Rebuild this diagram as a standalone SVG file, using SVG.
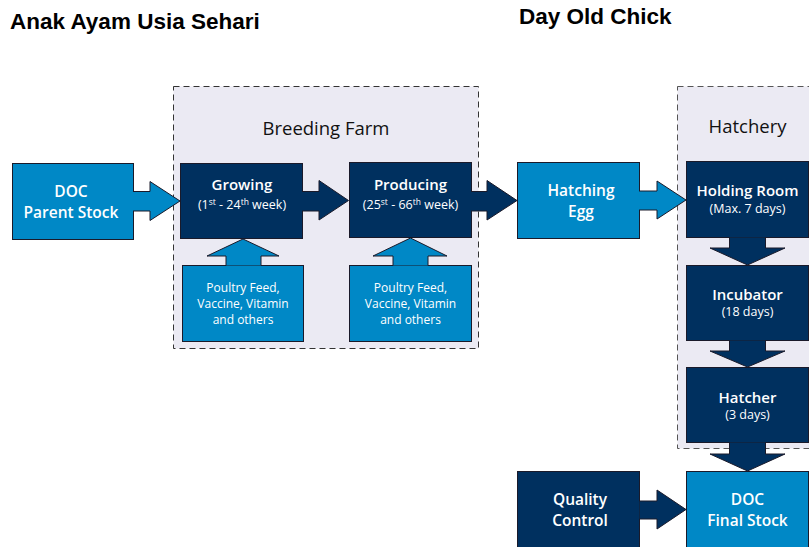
<svg xmlns="http://www.w3.org/2000/svg" width="809" height="547" viewBox="0 0 809 547">
<style>
.navy{fill:#00305f;stroke:#1a1a2a;stroke-width:1}
.blue{fill:#0088c6;stroke:#1a1a2a;stroke-width:1}
.an{fill:#00305f;stroke:#1a1a2a;stroke-width:1}
.ab{fill:#0088c6;stroke:#1a1a2a;stroke-width:1}
.grp{fill:#ebeaf3;stroke:#333;stroke-width:1;stroke-dasharray:6 4}
.t{font-family:"Open Sans","Noto Sans",sans-serif;fill:#fff;text-anchor:middle}
.b{font-weight:600;font-size:15px}
.m{font-weight:600;font-size:15.5px}
.s{font-size:12.5px}
.f{font-size:12px}
.h{font-family:"Liberation Sans",Arial,sans-serif;font-weight:bold;font-size:22.5px;fill:#000}
.g{font-family:"Open Sans","Noto Sans",sans-serif;font-size:18.5px;fill:#111;text-anchor:middle}
</style>
<text class="h" x="10" y="29">Anak Ayam Usia Sehari</text>
<text class="h" x="519" y="24">Day Old Chick</text>

<g id="breeding-farm">
<rect class="grp" x="173.5" y="86.5" width="305" height="262"/>
<text class="g" x="326" y="135">Breeding Farm</text>
</g>
<g id="hatchery">
<rect class="grp" x="677.5" y="86.5" width="160" height="362" style="stroke:#555"/>
<text class="g" x="747.5" y="133">Hatchery</text>
</g>

<g id="doc-parent-stock">
<rect class="blue" x="12.5" y="163.5" width="121" height="76"/>
<text class="t m" x="71" y="197">DOC</text>
<text class="t m" x="71" y="218">Parent Stock</text>
</g>
<g id="growing">
<rect class="navy" x="180.5" y="163.5" width="122" height="75"/>
<text class="t b" x="242" y="190">Growing</text>
<text class="t s" x="242" y="209">(1<tspan font-size="8.5" dy="-4.5">st</tspan><tspan dy="4.5"> - 24</tspan><tspan font-size="8.5" dy="-4.5">th</tspan><tspan dy="4.5"> week)</tspan></text>
</g>
<g id="feed-1">
<rect class="blue" x="182.5" y="265.5" width="121" height="76"/>
<text class="t f" x="243" y="292">Poultry Feed,</text>
<text class="t f" x="243" y="308">Vaccine, Vitamin</text>
<text class="t f" x="243" y="324">and others</text>
</g>
<g id="producing">
<rect class="navy" x="349.5" y="162.5" width="122" height="75"/>
<text class="t b" x="410.5" y="190">Producing</text>
<text class="t s" x="410.5" y="209">(25<tspan font-size="8.5" dy="-4.5">st</tspan><tspan dy="4.5"> - 66</tspan><tspan font-size="8.5" dy="-4.5">th</tspan><tspan dy="4.5"> week)</tspan></text>
</g>
<g id="feed-2">
<rect class="blue" x="349.5" y="265.5" width="122" height="76"/>
<text class="t f" x="410.5" y="292">Poultry Feed,</text>
<text class="t f" x="410.5" y="308">Vaccine, Vitamin</text>
<text class="t f" x="410.5" y="324">and others</text>
</g>
<g id="hatching-egg">
<rect class="blue" x="517.5" y="162.5" width="122" height="76"/>
<text class="t m" x="581" y="196">Hatching</text>
<text class="t m" x="581" y="217">Egg</text>
</g>
<g id="holding-room">
<rect class="navy" x="686.5" y="161.5" width="122" height="76"/>
<text class="t b" x="747.5" y="196">Holding Room</text>
<text class="t s" x="747.5" y="213">(Max. 7 days)</text>
</g>
<g id="incubator">
<rect class="navy" x="686.5" y="265.5" width="122" height="75"/>
<text class="t b" x="747.5" y="300">Incubator</text>
<text class="t s" x="747.5" y="316">(18 days)</text>
</g>
<g id="hatcher">
<rect class="navy" x="686.5" y="367.5" width="122" height="75"/>
<text class="t b" x="747.5" y="403">Hatcher</text>
<text class="t s" x="747.5" y="419">(3 days)</text>
</g>
<g id="quality-control">
<rect class="navy" x="517.5" y="471.5" width="122" height="90"/>
<text class="t m" x="580" y="505">Quality</text>
<text class="t m" x="580" y="526">Control</text>
</g>
<g id="doc-final-stock">
<rect class="blue" x="686.5" y="471.5" width="122" height="90"/>
<text class="t m" x="747.5" y="505">DOC</text>
<text class="t m" x="747.5" y="526">Final Stock</text>
</g>

<g id="connectors">
<path class="ab" d="M133,191.5 L150,191.5 L150,181.5 L180,201 L150,220.5 L150,211 L133,211"/>
<path class="an" d="M302,191.5 L319,191.5 L319,180.5 L348.5,200.5 L319,220 L319,211 L302,211"/>
<path class="an" d="M471,191.5 L487,191.5 L487,180.5 L517,200.5 L487,220 L487,211 L471,211"/>
<path class="ab" d="M639,191 L657,191 L657,181 L686,200 L657,219 L657,210 L639,210"/>
<path class="ab" d="M226,265.5 L226,256 L207,256 L243,239 L279,256 L261,256 L261,265.5"/>
<path class="ab" d="M393,265.5 L393,256 L373,256 L410.5,238 L447,256 L428,256 L428,265.5"/>
<path class="an" d="M729.5,237.5 L729.5,248 L710,248 L747.5,265 L785,248 L765.5,248 L765.5,237.5"/>
<path class="an" d="M729.5,340.5 L729.5,351 L710,351 L747.5,367 L785,351 L765.5,351 L765.5,340.5"/>
<path class="an" d="M729.5,442.5 L729.5,454 L710,454 L747.5,471 L785,454 L765.5,454 L765.5,442.5"/>
<path class="an" d="M639.5,501 L657,501 L657,490 L686,509.5 L657,529 L657,519 L639.5,519"/>
</g>
</svg>
